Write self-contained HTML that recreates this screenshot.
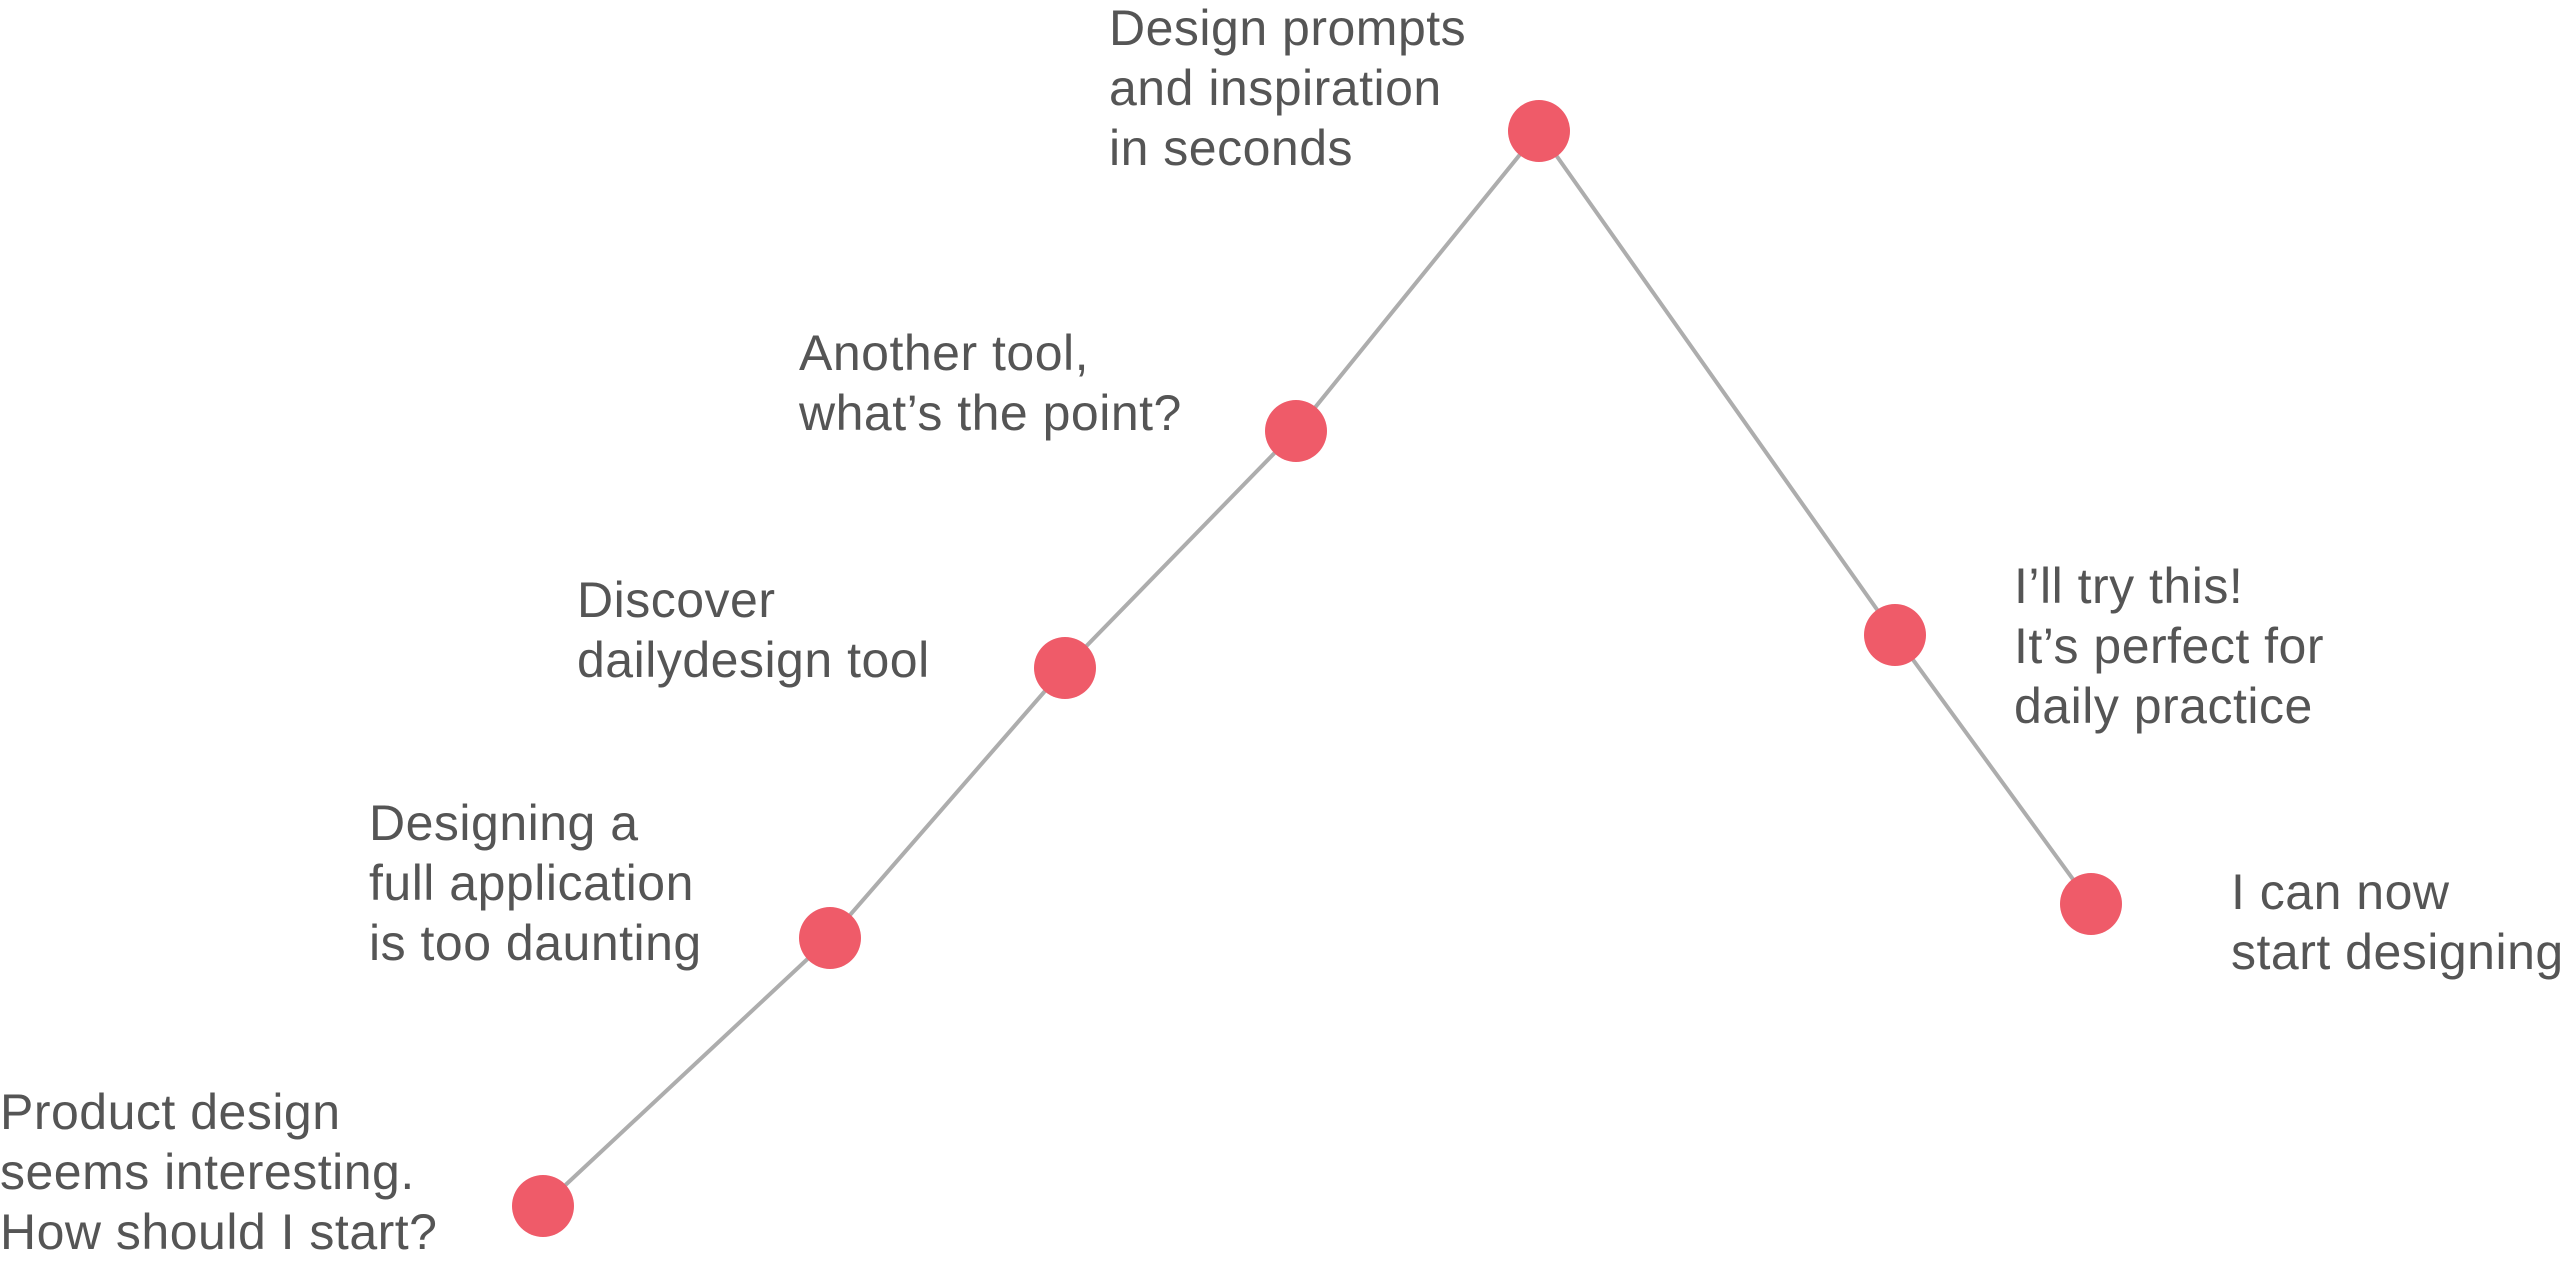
<!DOCTYPE html>
<html><head><style>
html,body{margin:0;padding:0;background:#fff;}
body{width:2572px;height:1270px;position:relative;overflow:hidden;font-family:"Liberation Sans",sans-serif;}
.t{position:absolute;font-size:50px;line-height:60px;color:#555;white-space:nowrap;letter-spacing:0.5px;}
svg{position:absolute;left:0;top:0;}
</style></head><body>
<svg width="2572" height="1270">
<polyline points="543,1206 830,938 1065,668 1296,431 1539,131 1895,635 2091,904" fill="none" stroke="#adadad" stroke-width="4"/>
<g fill="#ef5b69">
<circle cx="543" cy="1206" r="31"/>
<circle cx="830" cy="938" r="31"/>
<circle cx="1065" cy="668" r="31"/>
<circle cx="1296" cy="431" r="31"/>
<circle cx="1539" cy="131" r="31"/>
<circle cx="1895" cy="635" r="31"/>
<circle cx="2091" cy="904" r="31"/>
</g>
</svg>
<div class="t" style="left:0;top:1082px">Product design<br>seems interesting.<br>How should I start?</div>
<div class="t" style="left:369px;top:793px">Designing a<br>full application<br>is too daunting</div>
<div class="t" style="left:577px;top:570px">Discover<br>dailydesign tool</div>
<div class="t" style="left:799px;top:323px">Another tool,<br>what’s the point?</div>
<div class="t" style="left:1109px;top:-2px">Design prompts<br>and inspiration<br>in seconds</div>
<div class="t" style="left:2014px;top:556px">I’ll try this!<br>It’s perfect for<br>daily practice</div>
<div class="t" style="left:2231px;top:862px">I can now<br>start designing</div>
</body></html>
